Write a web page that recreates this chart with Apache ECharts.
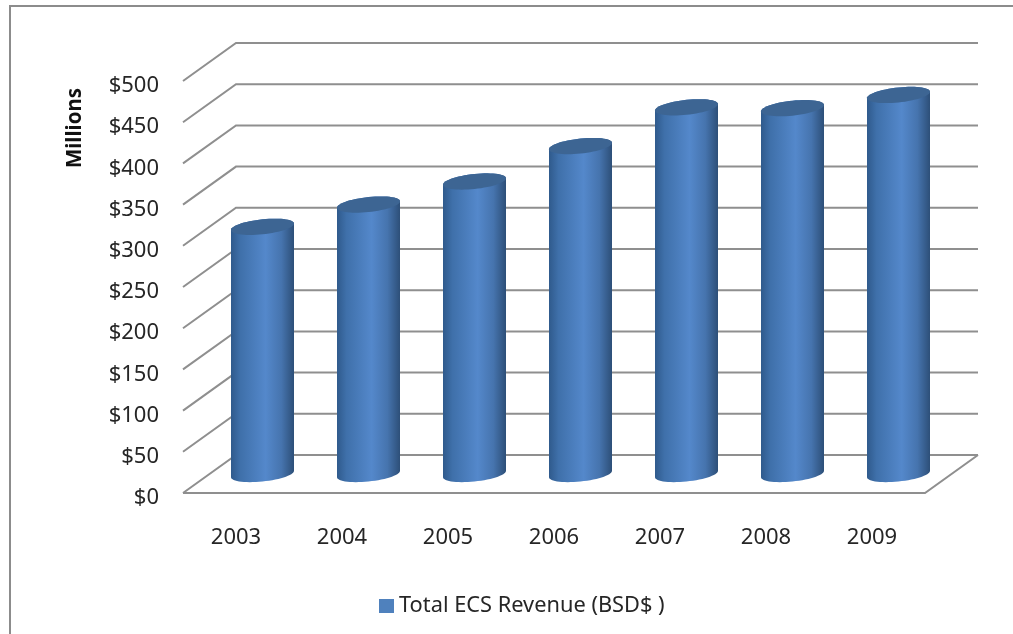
<!DOCTYPE html>
<html>
<head>
<meta charset="utf-8">
<style>html,body{margin:0;padding:0;background:#fff}#chart{width:1013px;height:634px}</style>
<script src="https://cdn.jsdelivr.net/npm/echarts@6/dist/echarts.min.js"></script>
</head>
<body>
<div id="chart"></div>
<script>
// Annual revenue, millions of dollars
const years = ['2003', '2004', '2005', '2006', '2007', '2008', '2009'];
const revenue = [300, 327, 355, 398, 445, 444, 460];
const gridTicks = [0, 50, 100, 150, 200, 250, 300, 350, 400, 450, 500];
const seriesName = 'Total ECS Revenue (BSD$ )';

// Pseudo-3D box: the back wall sits this far from the front plane
const DEPTH_X = 53, DEPTH_Y = -38;
const RX = 31.5, RY = 7.5, TILT = 3.2;
const LINE = '#8f8f8f';
const FONT = '"Noto Sans", sans-serif';

function ellipsePoints(cx, cy, from, to, steps) {
  const pts = [];
  for (let i = 0; i <= steps; i++) {
    const t = from + (to - from) * i / steps;
    pts.push([cx + RX * Math.cos(t), cy + RY * Math.sin(t) - TILT * Math.cos(t)]);
  }
  return pts;
}

// Side-wall diagonals, back-wall gridlines and the floor outline
function renderBox(params, api) {
  const cs = params.coordSys;
  const y = api.coord([0, api.value(1)])[1];
  const x0 = cs.x, x1 = cs.x + cs.width;
  const style = { stroke: LINE, lineWidth: 2, fill: null };
  const children = [
    { type: 'polyline', shape: { points: [[x0, y], [x0 + DEPTH_X, y + DEPTH_Y], [x1 + DEPTH_X, y + DEPTH_Y]] }, style }
  ];
  if (api.value(1) === 0) {
    children.push({ type: 'polyline', shape: { points: [[x0, y], [x1, y], [x1 + DEPTH_X, y + DEPTH_Y]] }, style });
  }
  return { type: 'group', children };
}

// Cylinder standing in the middle of the box depth
function renderCylinder(params, api) {
  const base = api.coord([api.value(0), 0]);
  const top = api.coord([api.value(0), api.value(1)]);
  const cx = base[0] + DEPTH_X / 2;
  const by = base[1] + DEPTH_Y / 2;
  const ty = top[1] + DEPTH_Y / 2;
  const body = ellipsePoints(cx, by, 0, Math.PI, 30).concat(ellipsePoints(cx, ty, Math.PI, 2 * Math.PI, 30));
  const cap = ellipsePoints(cx, ty, 0, 2 * Math.PI, 60);
  return {
    type: 'group',
    children: [
      {
        type: 'polygon',
        shape: { points: body },
        style: {
          fill: new echarts.graphic.LinearGradient(0, 0, 1, 0, [
            { offset: 0, color: '#2f5a8c' },
            { offset: 0.15, color: '#3f70aa' },
            { offset: 0.55, color: '#5488cb' },
            { offset: 0.8, color: '#4674ae' },
            { offset: 1, color: '#2d4f78' }
          ])
        }
      },
      { type: 'polygon', shape: { points: cap }, style: { fill: '#3d6593' } }
    ]
  };
}

const chart = echarts.init(document.getElementById('chart'), null, { renderer: 'canvas' });
chart.setOption({
  animation: false,
  backgroundColor: '#fff',
  grid: { left: 183, right: 88, top: 81, bottom: 141 },
  legend: {
    data: [{ name: seriesName, icon: 'rect' }],
    left: 374, top: 590,
    itemWidth: 15, itemHeight: 14, itemGap: 6,
    textStyle: { fontFamily: FONT, fontSize: 21.8, color: '#262626' }
  },
  xAxis: {
    type: 'category',
    data: years,
    axisLine: { show: false },
    axisTick: { show: false },
    axisLabel: { fontFamily: FONT, fontSize: 22, color: '#262626', margin: 34 }
  },
  yAxis: {
    type: 'value',
    min: 0, max: 500, interval: 50,
    axisLine: { show: false },
    axisTick: { show: false },
    splitLine: { show: false },
    axisLabel: { fontFamily: FONT, fontSize: 22, color: '#262626', margin: 24, verticalAlign: 'top', lineHeight: 10, formatter: '${value}' }
  },
  series: [
    {
      type: 'custom',
      name: 'box',
      silent: true,
      clip: false,
      z: 1,
      renderItem: renderBox,
      data: gridTicks.map(v => [0, v])
    },
    {
      type: 'custom',
      name: seriesName,
      clip: false,
      z: 2,
      itemStyle: { color: '#4f81bd' },
      renderItem: renderCylinder,
      encode: { x: 0, y: 1 },
      data: revenue.map((v, i) => [i, v])
    }
  ],
  graphic: [
    {
      type: 'polyline',
      shape: { points: [[10, 634], [10, 6], [1013, 6]] },
      style: { stroke: '#8c8c8c', lineWidth: 2, fill: null }
    },
    {
      type: 'text',
      x: 75, y: 128,
      rotation: Math.PI / 2,
      style: { text: 'Millions', fontFamily: FONT, fontWeight: 'bold', fontSize: 20.5, fill: '#111', align: 'center', verticalAlign: 'middle' }
    }
  ]
});
</script>
</body>
</html>
